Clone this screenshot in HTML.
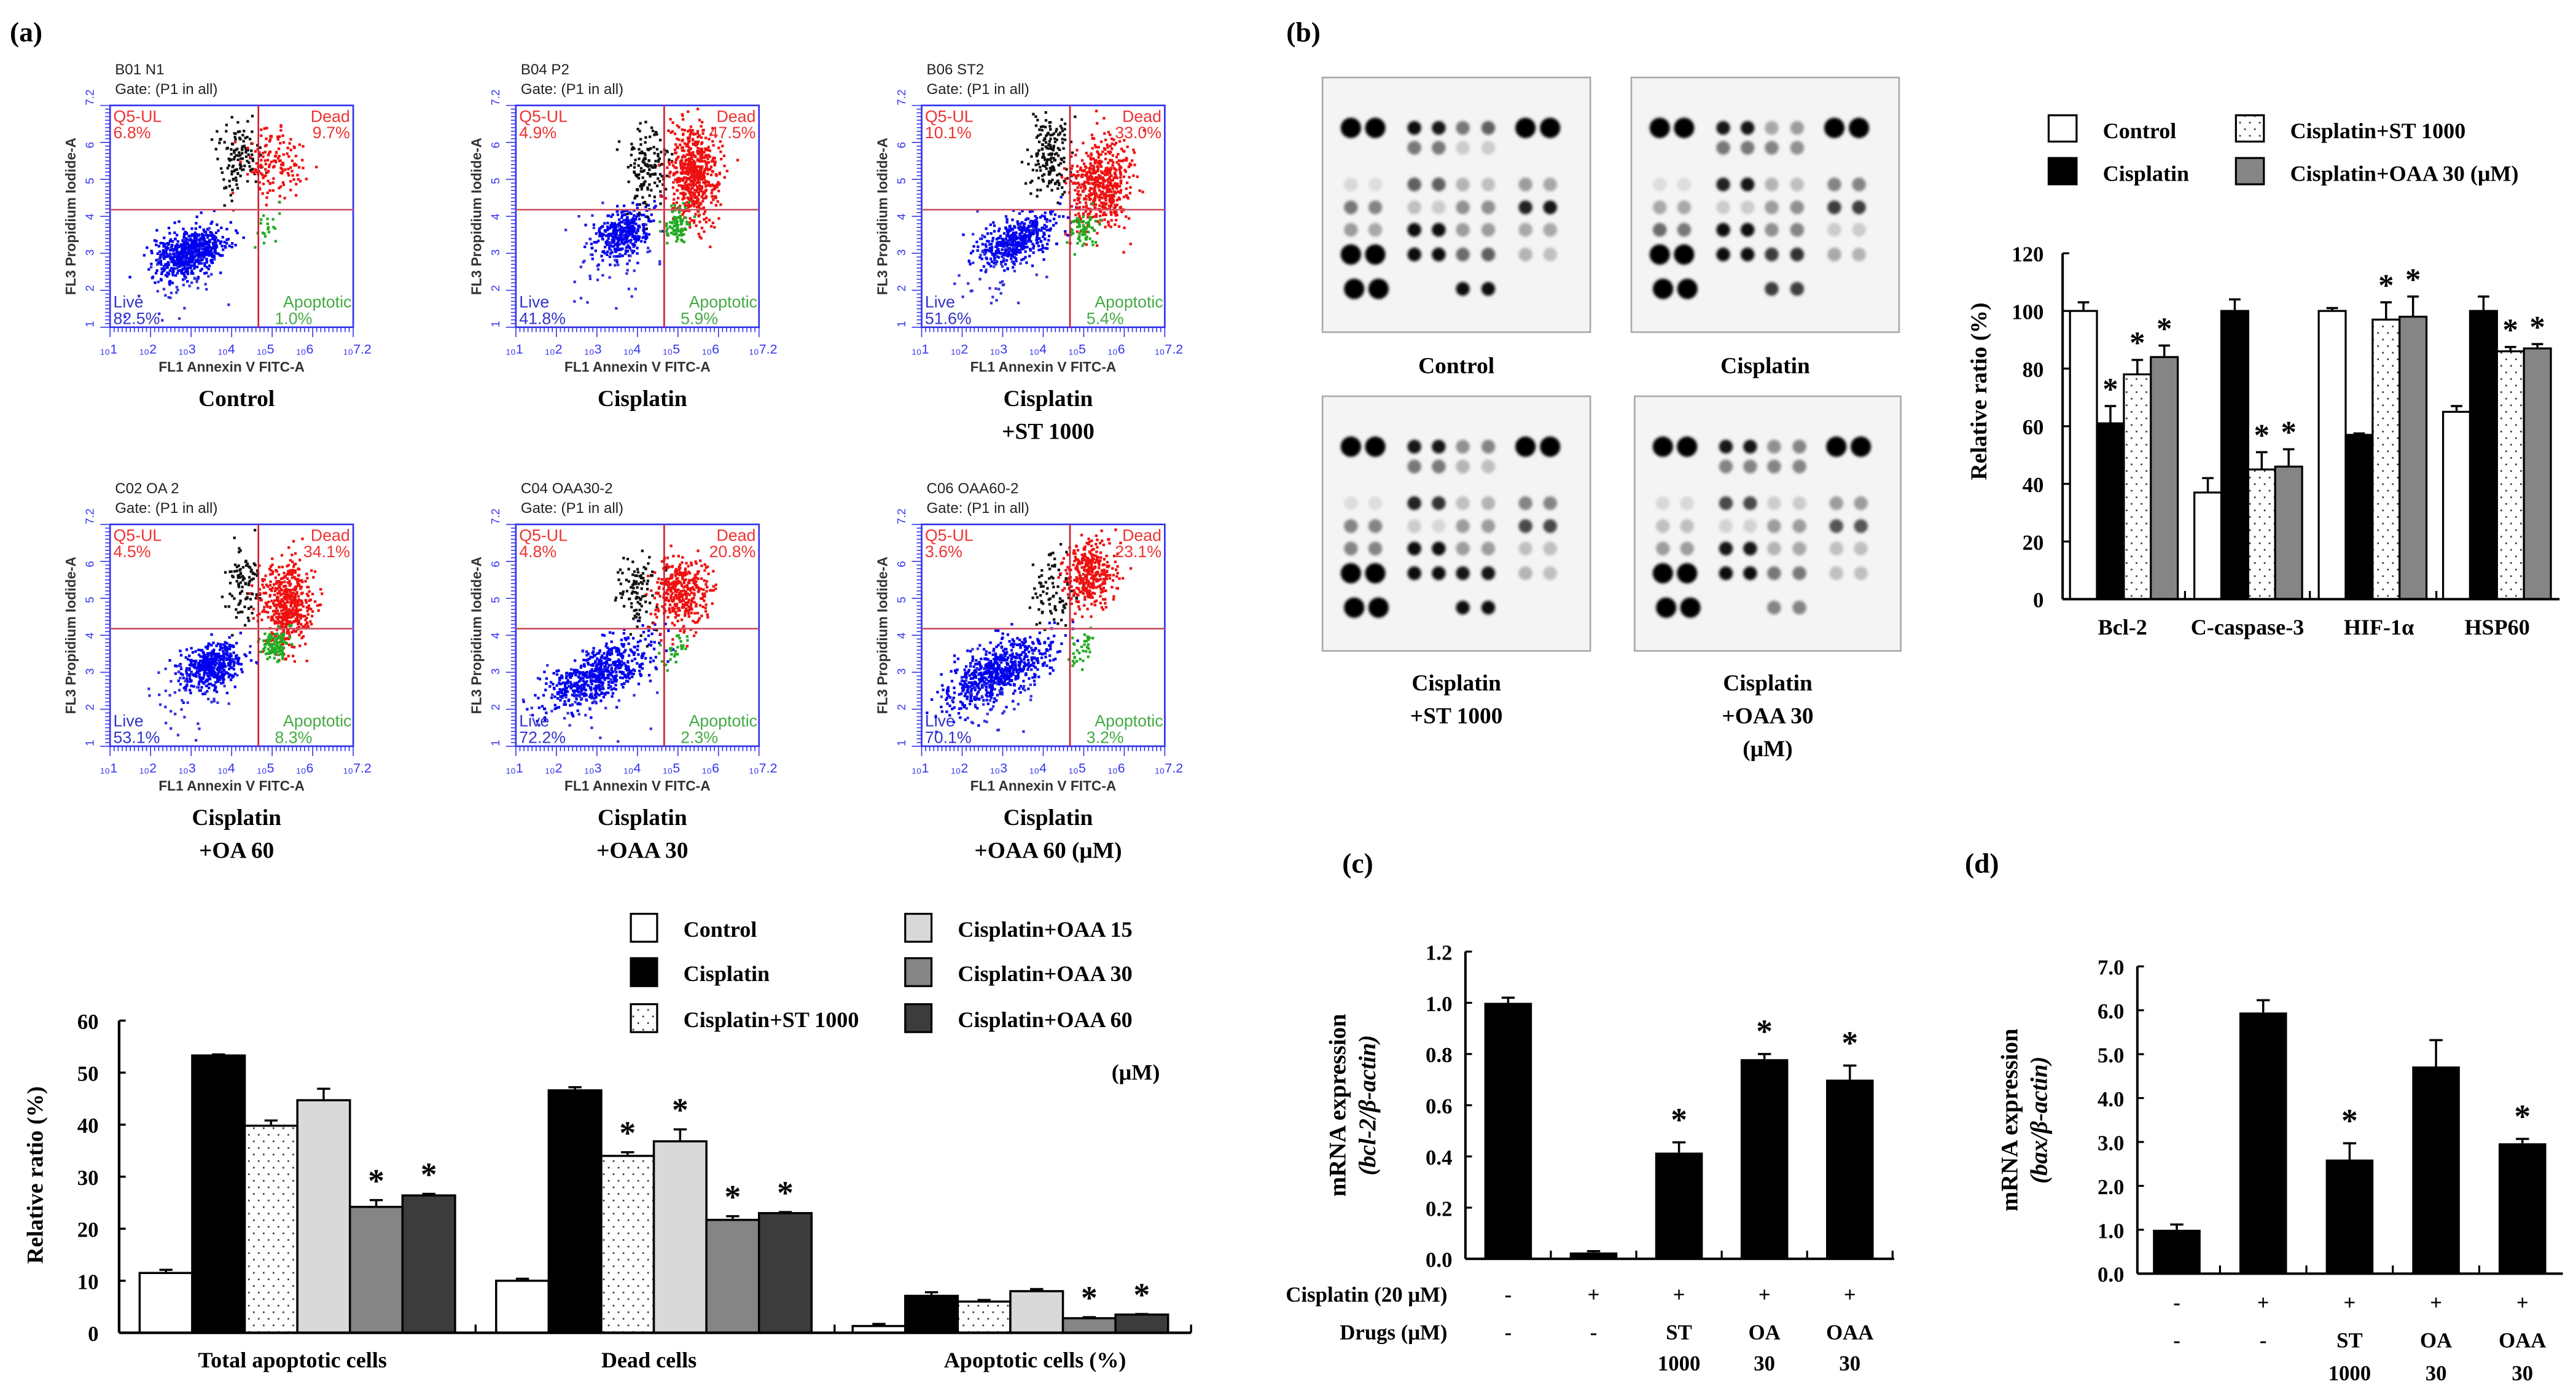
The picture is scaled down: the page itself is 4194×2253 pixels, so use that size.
<!DOCTYPE html>
<html><head><meta charset="utf-8"><style>
html,body{margin:0;padding:0;background:#fff;}
svg{display:block;}
.lab{font-family:"Liberation Serif",serif;font-weight:bold;fill:#000;}
.fl{font-family:"Liberation Sans",sans-serif;}
</style></head>
<body>
<svg id="fig" xmlns="http://www.w3.org/2000/svg" width="4194" height="2253" viewBox="0 0 1568 842">
<defs>
<pattern id="dots" patternUnits="userSpaceOnUse" width="6" height="8">
<rect width="6" height="8" fill="#fff"/><rect x="1" y="2" width="1" height="1" fill="#333"/><rect x="4" y="6" width="1" height="1" fill="#333"/>
</pattern>
<filter id="blur" x="-50%" y="-50%" width="200%" height="200%"><feGaussianBlur stdDeviation="0.9"/></filter>
</defs>
<text class="lab" x="6" y="25" font-size="17">(a)</text>
<text class="lab" x="783" y="25" font-size="17">(b)</text>
<text class="lab" x="817" y="531" font-size="17">(c)</text>
<text class="lab" x="1196" y="531" font-size="17">(d)</text>
<g id="flow"></g>
<g id="blots"></g>
<g id="chartA"></g>
<g id="chartB"></g>
<g id="chartC"></g>
<g id="chartD"></g>
</svg>
<script>
// ---------- Chart (a) data ----------
const aGroups = ["Total apoptotic cells", "Dead cells", "Apoptotic cells (%)"];
const aSeries = ["Control", "Cisplatin", "Cisplatin+ST 1000", "Cisplatin+OAA 15", "Cisplatin+OAA 30", "Cisplatin+OAA 60"];
const aTotal = [11.5, 53.3, 39.8, 44.7, 24.2, 26.4];
const aDead = [10.0, 46.6, 34.0, 36.8, 21.7, 23.0];
const aApop = [1.3, 7.1, 6.0, 8.0, 2.8, 3.5];
const aTotalErr = [0.6, 0.2, 1.0, 2.2, 1.3, 0.3];
const aDeadErr = [0.4, 0.6, 0.7, 2.3, 0.7, 0.2];
const aApopErr = [0.4, 0.7, 0.3, 0.4, 0.2, 0.1];
const aTotalStar = [0, 0, 0, 0, 1, 1];
const aDeadStar = [0, 0, 1, 1, 1, 1];
const aApopStar = [0, 0, 0, 0, 1, 1];
const aTicks = [0, 10, 20, 30, 40, 50, 60];
// ---------- Chart (b) data ----------
const bGroups = ["Bcl-2", "C-caspase-3", "HIF-1\u03b1", "HSP60"];
const bSeries = ["Control", "Cisplatin", "Cisplatin+ST 1000", "Cisplatin+OAA 30 (\u03bcM)"];
const bControl = [100, 37, 100, 65];
const bCisplatin = [61, 100, 57, 100];
const bST = [78, 45, 97, 86];
const bOAA = [84, 46, 98, 87];
const bControlErr = [3, 5, 1, 2];
const bCisplatinErr = [6, 4, 0.5, 5];
const bSTErr = [5, 6, 6, 1.5];
const bOAAErr = [4, 6, 7, 1.5];
const bStars = [[0,1,1,1],[0,0,1,1],[0,0,1,1],[0,0,1,1]];
const bTicks = [0, 20, 40, 60, 80, 100, 120];
// ---------- Chart (c) data ----------
const cValues = [1.0, 0.025, 0.415, 0.78, 0.70];
const cErr = [0.02, 0.005, 0.04, 0.02, 0.055];
const cStar = [0, 0, 1, 1, 1];
const cTicks = [0, 0.2, 0.4, 0.6, 0.8, 1.0, 1.2];
// ---------- Chart (d) data ----------
const dValues = [1.0, 5.95, 2.6, 4.72, 2.97];
const dErr = [0.12, 0.28, 0.37, 0.6, 0.1];
const dStar = [0, 0, 1, 0, 1];
const dTicks = [0, 1, 2, 3, 4, 5, 6, 7];
const cisRow = ["-", "+", "+", "+", "+"];
const drugRow = ["-", "-", "ST", "OA", "OAA"];
const doseRow = ["", "", "1000", "30", "30"];

const NS = "http://www.w3.org/2000/svg";
function mk(tag, attrs, parent, txt) {
  const e = document.createElementNS(NS, tag);
  for (const k in attrs) e.setAttribute(k, attrs[k]);
  if (txt !== undefined) e.textContent = txt;
  parent.appendChild(e);
  return e;
}
const fills = ["#fff", "#000", "url(#dots)", "#d9d9d9", "#858585", "#3c3c3c"];

// ---------- Flow cytometry plots ----------
let seed = 12345;
function rnd() { seed = (seed * 16807) % 2147483647; return (seed - 1) / 2147483646; }
function gauss() { let u = rnd() || 1e-6, v = rnd(); return Math.sqrt(-2 * Math.log(u)) * Math.cos(2 * Math.PI * v); }
const flowNames = ["B01 N1", "B04 P2", "B06 ST2", "C02 OA 2", "C04 OAA30-2", "C06 OAA60-2"];
const flowQ = [["6.8%","9.7%","82.5%","1.0%"],["4.9%","47.5%","41.8%","5.9%"],["10.1%","33.0%","51.6%","5.4%"],["4.5%","34.1%","53.1%","8.3%"],["4.8%","20.8%","72.2%","2.3%"],["3.6%","23.1%","70.1%","3.2%"]];
const flowCap = [["Control"],["Cisplatin"],["Cisplatin","+ST 1000"],["Cisplatin","+OA 60"],["Cisplatin","+OAA 30"],["Cisplatin","+OAA 60 (\u03bcM)"]];
const clusters = [
  {b:[0.32,0.66,650,0.07,0.05,0.3], k:[0.52,0.22,120], r:[0.67,0.26,150,0.06,0.09], g:[0.64,0.54,20]},
  {b:[0.44,0.57,380,0.06,0.05,0.4], k:[0.53,0.28,150], r:[0.73,0.3,600,0.05,0.1], g:[0.66,0.54,90]},
  {b:[0.39,0.6,460,0.08,0.05,0.4], k:[0.52,0.22,180], r:[0.73,0.35,540,0.06,0.1], g:[0.66,0.55,70]},
  {b:[0.41,0.63,460,0.06,0.05,0.3], k:[0.54,0.25,100], r:[0.72,0.36,540,0.05,0.1], g:[0.67,0.54,100]},
  {b:[0.34,0.67,600,0.11,0.06,0.5], k:[0.5,0.3,100], r:[0.68,0.3,370,0.06,0.08], g:[0.64,0.57,30]},
  {b:[0.31,0.66,650,0.11,0.06,0.5], k:[0.53,0.3,85], r:[0.69,0.22,370,0.05,0.08], g:[0.65,0.56,35]}
];
const flowG = document.getElementById("flow");
for (let p = 0; p < 6; p++) {
  const col = p % 3, row = Math.floor(p / 3);
  const bx = 67 + col * 247, by = 64 + row * 255, bw = 148, bh = 135;
  const vx = bx + bw * 0.61, hy = by + bh * 0.47;
  const g = mk("g", {}, flowG);
  
  
  mk("text", {x: bx + 3, y: by - 19, "font-size": 9, class: "fl", fill: "#222"}, g, flowNames[p]);
  mk("text", {x: bx + 3, y: by - 7, "font-size": 9, class: "fl", fill: "#222"}, g, "Gate: (P1 in all)");
  const c = clusters[p];
  function cloud(cx, cy, n, sx, sy, tilt, color) {
    for (let i = 0; i < n; i++) {
      const dx = gauss() * sx, dy = gauss() * sy - dx * (tilt || 0);
      const x = bx + (cx + dx) * bw, y = by + (cy + dy) * bh;
      if (x < bx + 1 || x > bx + bw - 2 || y < by + 1 || y > by + bh - 2) continue;
      mk("rect", {x: x.toFixed(1), y: y.toFixed(1), width: 1.6, height: 1.6, fill: color}, g);
    }
  }
  cloud(c.b[0], c.b[1], c.b[2], c.b[3], c.b[4], c.b[5], "#0000ee");
  cloud(c.b[0] - 0.06, c.b[1] + 0.12, 50, 0.12, 0.1, 0.3, "#3333dd");
  cloud(c.k[0], c.k[1], c.k[2], 0.04, 0.09, 0, "#111");
  cloud(c.r[0], c.r[1], c.r[2], c.r[3], c.r[4], 0, "#ee1111");
  cloud(c.g[0], c.g[1], c.g[2], 0.03, 0.04, 0.3, "#22aa22");
  mk("rect", {x: bx, y: by, width: bw, height: bh, fill: "none", stroke: "#3333ee", "stroke-width": 1}, g);
  mk("line", {x1: vx, y1: by, x2: vx, y2: by + bh, stroke: "#cc2233", "stroke-width": 1}, g);
  mk("line", {x1: bx, y1: hy, x2: bx + bw, y2: hy, stroke: "#cc5566", "stroke-width": 1}, g);
  for (let i = 0; i <= 60; i++) {
    const t = i / 60;
    const L = i % 10 === 0 ? 6 : 3;
    mk("line", {x1: bx + t * bw, y1: by + bh, x2: bx + t * bw, y2: by + bh + L, stroke: "#3333ee", "stroke-width": 0.6}, g);
    mk("line", {x1: bx, y1: by + t * bh, x2: bx - L, y2: by + t * bh, stroke: "#3333ee", "stroke-width": 0.6}, g);
  }
  const exps = ["1","2","3","4","5","6","7.2"];
  for (let i = 0; i < 7; i++) {
    const fx = i < 6 ? i / 6.2 : 1;
    mk("text", {x: bx + fx * bw - 6, y: by + bh + 16, "font-size": 8, class: "fl", fill: "#3333ee"}, g, "\u2081\u2080" + exps[i]);
    mk("text", {x: bx - 10, y: by + bh - fx * bh, "font-size": 7, class: "fl", fill: "#3333ee", transform: `rotate(-90 ${bx - 10} ${by + bh - fx * bh})`}, g, exps[i]);
  }
  mk("text", {x: bx + bw / 2, y: by + bh + 27, "font-size": 8.5, class: "fl", "font-weight": "bold", fill: "#333", "text-anchor": "middle"}, g, "FL1 Annexin V FITC-A");
  const ly = by + bh / 2, lx = bx - 21;
  mk("text", {x: lx, y: ly, "font-size": 8.5, class: "fl", "font-weight": "bold", fill: "#333", "text-anchor": "middle", transform: `rotate(-90 ${lx} ${ly})`}, g, "FL3 Propidium Iodide-A");
  const q = flowQ[p];
  mk("text", {x: bx + 2, y: by + 10, "font-size": 10, class: "fl", fill: "#e33"}, g, "Q5-UL");
  mk("text", {x: bx + 2, y: by + 20, "font-size": 10, class: "fl", fill: "#e33"}, g, q[0]);
  mk("text", {x: bx + bw - 2, y: by + 10, "font-size": 10, class: "fl", fill: "#e33", "text-anchor": "end"}, g, "Dead");
  mk("text", {x: bx + bw - 2, y: by + 20, "font-size": 10, class: "fl", fill: "#e33", "text-anchor": "end"}, g, q[1]);
  mk("text", {x: bx + 2, y: by + bh - 12, "font-size": 10, class: "fl", fill: "#33c"}, g, "Live");
  mk("text", {x: bx + 2, y: by + bh - 2, "font-size": 10, class: "fl", fill: "#33c"}, g, q[2]);
  mk("text", {x: bx + bw - 1, y: by + bh - 12, "font-size": 10, class: "fl", fill: "#4a4", "text-anchor": "end"}, g, "Apoptotic");
  mk("text", {x: vx + 10, y: by + bh - 2, "font-size": 10, class: "fl", fill: "#4a4"}, g, q[3]);
  const cap = flowCap[p];
  for (let i = 0; i < cap.length; i++) {
    const t = mk("text", {x: bx + bw / 2 + 3, y: (row ? 502 : 247) + i * 20, "font-size": 14, class: "lab", "text-anchor": "middle"}, g, cap[i]);
    
    
  }
}

// ---------- Dot blots ----------
const blotCols = [.106,.197,.343,.434,.524,.619,.758,.850];
const blotRows = [.198,.276,.42,.51,.598,.695,.83];
const blotInt = [
 [[1,1,.95,.9,.5,.6,1,1],[0,0,.5,.5,.15,.15,0,0],[.1,.08,.6,.6,.25,.2,.35,.3],[.5,.45,.2,.15,.4,.4,.85,.9],[.35,.3,.95,.95,.35,.35,.3,.3],[1,1,.95,.95,.55,.6,.25,.2],[1,1,0,0,.95,.95,0,0]],
 [[1,1,.9,.9,.3,.35,1,1],[0,0,.5,.5,.45,.4,0,0],[.08,.08,.85,.9,.25,.2,.45,.45],[.3,.3,.15,.15,.35,.4,.75,.75],[.55,.5,.95,.95,.4,.45,.15,.15],[1,1,.95,.95,.75,.8,.3,.25],[1,1,0,0,.75,.75,0,0]],
 [[1,1,.9,.9,.4,.45,1,1],[0,0,.5,.5,.25,.2,0,0],[.08,.08,.85,.8,.2,.25,.45,.45],[.45,.45,.15,.1,.35,.35,.7,.7],[.45,.45,.95,.95,.35,.35,.2,.2],[1,1,.95,.95,.9,.9,.25,.2],[1,1,0,0,.95,.95,0,0]],
 [[1,1,.9,.9,.4,.45,1,1],[0,0,.45,.45,.45,.45,0,0],[.1,.1,.7,.7,.15,.15,.35,.35],[.2,.2,.12,.12,.35,.35,.65,.65],[.35,.35,.9,.9,.25,.3,.2,.2],[1,1,.95,.95,.5,.5,.2,.2],[1,1,0,0,.45,.45,0,0]]
];
const blotBoxes = [[805,47,163,155],[993,47,163,155],[805,241,163,155],[995,241,162,155]];
const blotCaps = [["Control"],["Cisplatin"],["Cisplatin","+ST 1000"],["Cisplatin","+OAA 30","(\u03bcM)"]];
const blotG = document.getElementById("blots");
for (let b = 0; b < 4; b++) {
  const [x, y, w, h] = blotBoxes[b];
  const g = mk("g", {}, blotG);
  
  
  mk("rect", {x, y, width: w, height: h, fill: "#f4f4f4", stroke: "#aaa", "stroke-width": 1}, g);
  const sg = mk("g", {filter: "url(#blur)"}, g);
  for (let r = 0; r < 7; r++) for (let c = 0; c < 8; c++) {
    const v = blotInt[b][r][c];
    if (!v) continue;
    const big = (r === 0 && (c < 2 || c > 5)) || (r >= 5 && c < 2);
    let cx = x + blotCols[c] * w;
    if (r === 6 && c < 2) cx += 2;
    const rad = big ? 6.2 : 4.2;
    const gv = Math.round(240 - v * 240);
    mk("circle", {cx, cy: y + blotRows[r] * h, r: rad, fill: `rgb(${gv},${gv},${gv})`}, sg);
  }
  const cap = blotCaps[b];
  for (let i = 0; i < cap.length; i++) {
    mk("text", {x: x + w / 2, y: (b < 2 ? 227 : 420) + i * 20, "font-size": 14, class: "lab", "text-anchor": "middle"}, g, cap[i]);
  }
}

function errBar(g, cx, yTop, yErr, cap) {
  mk("line", {x1: cx, y1: yTop, x2: cx, y2: yErr, stroke: "#000", "stroke-width": 1.3}, g);
  mk("line", {x1: cx - cap, y1: yErr, x2: cx + cap, y2: yErr, stroke: "#000", "stroke-width": 1.3}, g);
}
function star(g, cx, y, fs) {
  const s = mk("text", {x: cx, y, "font-size": fs, class: "lab", "text-anchor": "middle"}, g, "*");
  
  
}

// ---------- Chart (a) ----------
(function () {
  const g = document.getElementById("chartA");
  
  
  const y0 = 811, ppu = 190 / 60, axX = 72.5, axEnd = 725;
  const Y = v => y0 - v * ppu;
  const gx = (gi, si) => 85 + gi * 217 + si * 32;
  const vals = [aTotal, aDead, aApop], errs = [aTotalErr, aDeadErr, aApopErr], stars = [aTotalStar, aDeadStar, aApopStar];
  for (let gi = 0; gi < 3; gi++) for (let si = 0; si < 6; si++) {
    const v = vals[gi][si], x = gx(gi, si);
    const r = mk("rect", {x, y: Y(v), width: 32, height: v * ppu, fill: fills[si], stroke: "#000", "stroke-width": 1.3}, g);
    
    
    errBar(g, x + 16, Y(v), Y(v + errs[gi][si]), 4);
    if (stars[gi][si]) star(g, x + 16, Y(v + errs[gi][si]) - 5, 20);
  }
  mk("line", {x1: axX, y1: Y(60), x2: axX, y2: y0, stroke: "#000", "stroke-width": 1.6}, g);
  mk("line", {x1: axX, y1: y0, x2: axEnd, y2: y0, stroke: "#000", "stroke-width": 1.6}, g);
  for (const t of aTicks) {
    mk("line", {x1: axX, y1: Y(t), x2: axX + 4, y2: Y(t), stroke: "#000", "stroke-width": 1.3}, g);
    mk("text", {x: 60, y: Y(t) + 5, "font-size": 13, class: "lab", "text-anchor": "end"}, g, String(t));
  }
  for (const tx of [289.5, 508, axEnd]) mk("line", {x1: tx, y1: y0, x2: tx, y2: y0 - 5, stroke: "#000", "stroke-width": 1.3}, g);
  const gcx = [178, 395, 630];
  for (let gi = 0; gi < 3; gi++) mk("text", {x: gcx[gi], y: 832, "font-size": 13.5, class: "lab", "text-anchor": "middle"}, g, aGroups[gi]);
  const yl = mk("text", {x: 26, y: 715, "font-size": 14, class: "lab", "text-anchor": "middle", transform: "rotate(-90 26 715)"}, g, "Relative ratio (%)");
  
  
  const lp = [[384, 556], [384, 583], [384, 611], [551, 556], [551, 583], [551, 611]];
  for (let i = 0; i < 6; i++) {
    const le = mk("g", {}, g);
    
    
    mk("rect", {x: lp[i][0], y: lp[i][1], width: 16, height: 17, fill: fills[i], stroke: "#000", "stroke-width": 1.2}, le);
    mk("text", {x: lp[i][0] + 32, y: lp[i][1] + 14, "font-size": 13.5, class: "lab"}, le, aSeries[i]);
  }
  mk("text", {x: 706, y: 657, "font-size": 13.5, class: "lab", "text-anchor": "end"}, g, "(\u03bcM)");
})();

// ---------- Chart (b) ----------
(function () {
  const g = document.getElementById("chartB");
  
  
  const y0 = 364.5, ppu = 210.5 / 120, axX = 1255.5, axEnd = 1558;
  const Y = v => y0 - v * ppu;
  const series = [bControl, bCisplatin, bST, bOAA], errs = [bControlErr, bCisplatinErr, bSTErr, bOAAErr];
  const bf = ["#fff", "#000", "url(#dots)", "#858585"];
  for (let gi = 0; gi < 4; gi++) for (let si = 0; si < 4; si++) {
    const v = series[si][gi], x = 1260 + gi * 75.7 + si * 16.4;
    const r = mk("rect", {x, y: Y(v), width: 16.4, height: v * ppu, fill: bf[si], stroke: "#000", "stroke-width": 1.2}, g);
    
    
    errBar(g, x + 8.2, Y(v), Y(v + errs[si][gi]), 3.5);
    if (bStars[gi][si]) star(g, x + 8.2, Y(v + errs[si][gi]) - 4, 19);
  }
  mk("line", {x1: axX, y1: Y(120), x2: axX, y2: y0, stroke: "#000", "stroke-width": 1.5}, g);
  mk("line", {x1: axX, y1: y0, x2: axEnd, y2: y0, stroke: "#000", "stroke-width": 1.5}, g);
  for (const t of bTicks) {
    mk("line", {x1: axX, y1: Y(t), x2: axX + 4, y2: Y(t), stroke: "#000", "stroke-width": 1.2}, g);
    mk("text", {x: 1244, y: Y(t) + 5, "font-size": 13, class: "lab", "text-anchor": "end"}, g, String(t));
  }
  for (const tx of [1330, 1406, 1483]) mk("line", {x1: tx, y1: y0, x2: tx, y2: y0 - 5, stroke: "#000", "stroke-width": 1.2}, g);
  const gcx = [1292, 1368, 1448, 1520];
  for (let gi = 0; gi < 4; gi++) mk("text", {x: gcx[gi], y: 386, "font-size": 13.5, class: "lab", "text-anchor": "middle"}, g, bGroups[gi]);
  mk("text", {x: 1209, y: 238, "font-size": 14, class: "lab", "text-anchor": "middle", transform: "rotate(-90 1209 238)"}, g, "Relative ratio (%)");
  const lp = [[1247, 70], [1247, 96], [1361, 70], [1361, 96]];
  for (let i = 0; i < 4; i++) {
    const le = mk("g", {}, g);
    
    
    mk("rect", {x: lp[i][0], y: lp[i][1], width: 17, height: 16, fill: bf[i], stroke: "#000", "stroke-width": 1.2}, le);
    mk("text", {x: lp[i][0] + 33, y: lp[i][1] + 14, "font-size": 13.5, class: "lab"}, le, bSeries[i]);
  }
})();

// ---------- Charts (c) and (d) ----------
function mrnaChart(id, name, vals, errs, stars, ticks, maxV, y0, yTop, axX, axEnd, cx0, step, labelX, yTitle, rowYs, withRowLabels) {
  const g = document.getElementById(id);
  
  
  const ppu = (y0 - yTop) / maxV;
  const Y = v => y0 - v * ppu;
  for (let i = 0; i < vals.length; i++) {
    const cx = cx0 + i * step, v = vals[i];
    const r = mk("rect", {x: cx - 14.5, y: Y(v), width: 29, height: v * ppu, fill: "#000"}, g);
    
    
    errBar(g, cx, Y(v), Y(v + errs[i]), 4);
    if (stars[i]) star(g, cx, Y(v + errs[i]) - 7, 20);
  }
  mk("line", {x1: axX, y1: yTop, x2: axX, y2: y0, stroke: "#000", "stroke-width": 1.5}, g);
  mk("line", {x1: axX, y1: y0, x2: axEnd, y2: y0, stroke: "#000", "stroke-width": 1.5}, g);
  for (const t of ticks) {
    mk("line", {x1: axX, y1: Y(t), x2: axX + 4, y2: Y(t), stroke: "#000", "stroke-width": 1.2}, g);
    mk("text", {x: axX - 8, y: Y(t) + 5, "font-size": 13, class: "lab", "text-anchor": "end"}, g, t.toFixed(1));
  }
  for (let i = 1; i <= vals.length; i++) {
    const tx = cx0 + (i - 0.5) * step;
    if (tx < axEnd) mk("line", {x1: tx, y1: y0, x2: tx, y2: y0 - 5, stroke: "#000", "stroke-width": 1.2}, g);
  }
  const ym = (yTop + y0) / 2;
  mk("text", {x: labelX, y: ym, "font-size": 14.5, class: "lab", "text-anchor": "middle", transform: `rotate(-90 ${labelX} ${ym})`}, g, "mRNA expression");
  mk("text", {x: labelX + 18, y: ym, "font-size": 14.5, class: "lab", "font-style": "italic", "text-anchor": "middle", transform: `rotate(-90 ${labelX + 18} ${ym})`}, g, yTitle);
  for (let i = 0; i < vals.length; i++) {
    const cx = cx0 + i * step;
    mk("text", {x: cx, y: rowYs[0], "font-size": 13, class: "lab", "font-weight": "normal", "text-anchor": "middle"}, g, cisRow[i]);
    mk("text", {x: cx, y: rowYs[1], "font-size": 13, class: "lab", "text-anchor": "middle"}, g, drugRow[i]);
    if (doseRow[i]) mk("text", {x: cx, y: rowYs[2], "font-size": 13, class: "lab", "text-anchor": "middle"}, g, doseRow[i]);
  }
  if (withRowLabels) {
    mk("text", {x: 881, y: rowYs[0], "font-size": 13, class: "lab", "text-anchor": "end"}, g, "Cisplatin (20 \u03bcM)");
    mk("text", {x: 881, y: rowYs[1], "font-size": 13, class: "lab", "text-anchor": "end"}, g, "Drugs (\u03bcM)");
  }
}
mrnaChart("chartC", "chart-c-bcl2-mrna", cValues, cErr, cStar, cTicks, 1.2, 766, 579, 892, 1153, 918, 52, 819, "(bcl-2/\u03b2-actin)", [792, 815, 834], true);
mrnaChart("chartD", "chart-d-bax-mrna", dValues, dErr, dStar, dTicks, 7, 775, 588, 1301, 1560, 1325, 52.6, 1228, "(bax/\u03b2-actin)", [797, 820, 840], false);
</script>
</body></html>
